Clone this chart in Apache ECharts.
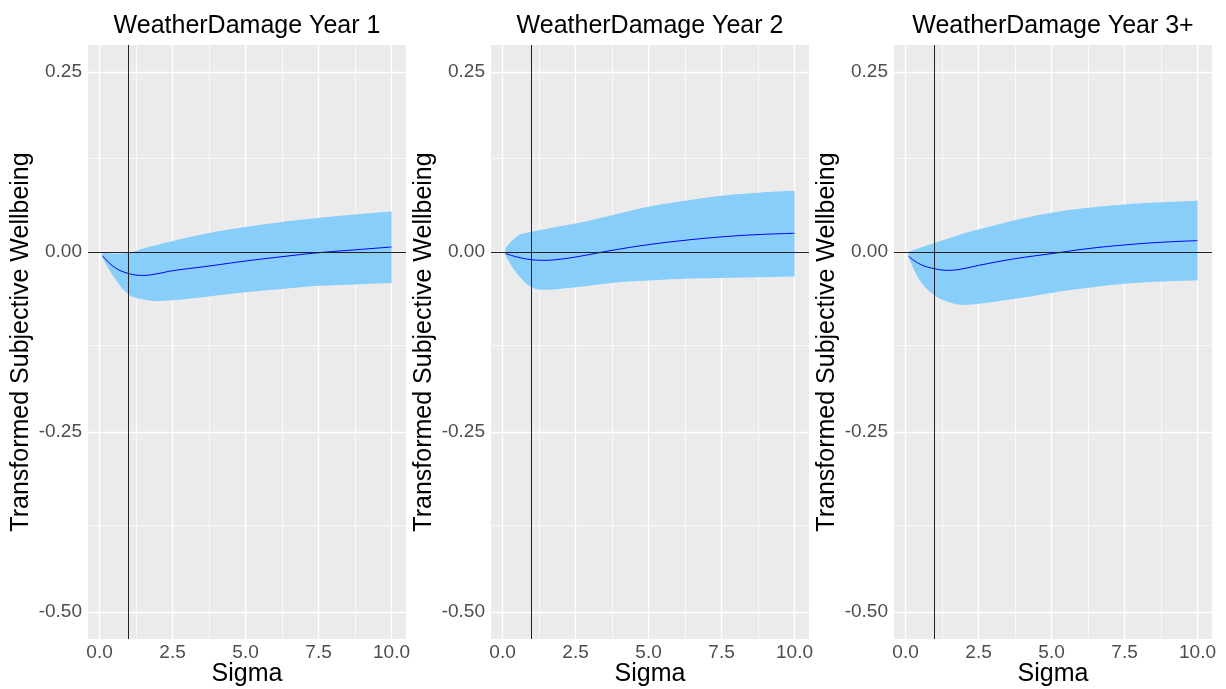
<!DOCTYPE html>
<html>
<head>
<meta charset="utf-8">
<script src="https://cdn.jsdelivr.net/npm/echarts@6/dist/echarts.min.js"></script>
<style>
  html, body { margin: 0; padding: 0; background: #fff; }
  #chart { width: 1226px; height: 689px; }
</style>
</head>
<body>
<div id="chart"></div>
<script>
var titles = ['WeatherDamage Year 1', 'WeatherDamage Year 2', 'WeatherDamage Year 3+'];
var sigma = [0.1, 0.5, 1, 1.5, 2, 2.5, 3.75, 5, 6.25, 7.5, 8.75, 10];

// year 1
var mean1  = [-0.005, -0.021, -0.030, -0.0325, -0.030, -0.026, -0.0195, -0.0125, -0.0065, -0.001, 0.003, 0.007];
var upper1 = [-0.001, -0.002, -0.001, 0.005, 0.010, 0.0153, 0.0265, 0.0348, 0.0418, 0.0473, 0.052, 0.0562];
var lower1 = [-0.008, -0.035, -0.059, -0.066, -0.068, -0.067, -0.0617, -0.056, -0.0515, -0.047, -0.045, -0.043];
// year 2
var mean2  = [-0.002, -0.007, -0.0107, -0.0115, -0.0098, -0.007, 0.0023, 0.0102, 0.0163, 0.021, 0.0242, 0.026];
var upper2 = [0.005, 0.022, 0.028, 0.032, 0.036, 0.0396, 0.0512, 0.0628, 0.0712, 0.0782, 0.0824, 0.085];
var lower2 = [-0.005, -0.030, -0.049, -0.0525, -0.051, -0.049, -0.043, -0.0396, -0.037, -0.036, -0.035, -0.034];
// year 3+
var mean3  = [-0.006, -0.017, -0.0233, -0.0255, -0.023, -0.0186, -0.0093, -0.0023, 0.0047, 0.0098, 0.0135, 0.0158];
var upper3 = [0.0, 0.006, 0.0126, 0.019, 0.026, 0.0312, 0.0442, 0.0545, 0.0615, 0.0661, 0.069, 0.0712];
var lower3 = [-0.006, -0.040, -0.0605, -0.0698, -0.0735, -0.072, -0.065, -0.0568, -0.0498, -0.0442, -0.041, -0.0396];

var xTicks = [0, 2.5, 5, 7.5, 10];
var xMinor = [1.25, 3.75, 6.25, 8.75];
var yTicks = [-0.5, -0.25, 0, 0.25];
var yMinor = [-0.375, -0.125, 0.125];

var means = [mean1, mean2, mean3];
var uppers = [upper1, upper2, upper3];
var lowers = [lower1, lower2, lower3];

var FONT = "'Liberation Sans', Arial, sans-serif";
var lefts = [88, 491, 894];
var PW = 318, PT = 45, PH = 594;

// rows as [y, x] so that stacking happens on the y value
function rows(xs, ys) {
  return xs.map(function (x, k) { return [ys[k], x]; });
}

var grids = [], xAxes = [], yAxes = [], series = [], graphics = [];

for (var i = 0; i < 3; i++) {
  grids.push({
    left: lefts[i], top: PT, width: PW, height: PH,
    outerBoundsMode: 'none', containLabel: false,
    show: true, backgroundColor: '#EBEBEB', borderWidth: 0
  });
  xAxes.push({
    type: 'value', gridIndex: i, min: -0.395, max: 10.495,
    axisLine: { show: false },
    splitLine: { show: false },
    axisTick: { show: true, customValues: xTicks, length: 3, lineStyle: { color: '#333', width: 1 } },
    axisLabel: {
      customValues: xTicks, color: '#4D4D4D', fontSize: 19, fontFamily: FONT, margin: 4,
      formatter: function (v) { return v.toFixed(1); }
    },
    name: 'Sigma', nameLocation: 'middle', nameGap: 23, nameMoveOverlap: false,
    nameTextStyle: { fontSize: 25, color: '#000', fontFamily: FONT }
  });
  yAxes.push({
    type: 'value', gridIndex: i, min: -0.5375, max: 0.2875,
    axisLine: { show: false },
    splitLine: { show: false },
    axisTick: { show: true, customValues: yTicks, length: 3, lineStyle: { color: '#333', width: 1 } },
    axisLabel: {
      customValues: yTicks, color: '#4D4D4D', fontSize: 19, fontFamily: FONT, margin: 6,
      formatter: function (v) { return v.toFixed(2); }
    },
    name: 'Transformed Subjective Wellbeing', nameLocation: 'middle', nameRotate: 90, nameGap: 54,
    nameMoveOverlap: false,
    nameTextStyle: { fontSize: 25, color: '#000', fontFamily: FONT }
  });

  // ggplot style panel grid
  var gl = [];
  xTicks.forEach(function (v) { gl.push({ xAxis: v, lineStyle: { width: 1.4 } }); });
  xMinor.forEach(function (v) { gl.push({ xAxis: v, lineStyle: { width: 0.7 } }); });
  yTicks.forEach(function (v) { gl.push({ yAxis: v, lineStyle: { width: 1.4 } }); });
  yMinor.forEach(function (v) { gl.push({ yAxis: v, lineStyle: { width: 0.7 } }); });
  series.push({
    type: 'line', xAxisIndex: i, yAxisIndex: i, data: [], z: 0, silent: true,
    markLine: {
      z: 1, silent: true, symbol: ['none', 'none'], label: { show: false },
      lineStyle: { color: '#FFFFFF', type: 'solid' }, emphasis: { disabled: true },
      animation: false, data: gl
    }
  });

  // ribbon: lower bound + stacked width
  series.push({
    type: 'line', xAxisIndex: i, yAxisIndex: i, stack: 'ci' + i, stackStrategy: 'all',
    encode: { x: 1, y: 0 },
    data: rows(sigma, lowers[i]), symbol: 'none', smooth: 0.4, z: 2,
    lineStyle: { width: 0, opacity: 0 }, silent: true
  });
  series.push({
    type: 'line', xAxisIndex: i, yAxisIndex: i, stack: 'ci' + i, stackStrategy: 'all',
    encode: { x: 1, y: 0 },
    data: rows(sigma, uppers[i].map(function (u, k) { return u - lowers[i][k]; })),
    symbol: 'none', smooth: 0.4, z: 2,
    lineStyle: { width: 0, opacity: 0 },
    areaStyle: { color: '#87CEFA', opacity: 1 }, silent: true
  });

  // estimate + reference lines
  series.push({
    type: 'line', xAxisIndex: i, yAxisIndex: i,
    encode: { x: 1, y: 0 },
    data: rows(sigma, means[i]), symbol: 'none', smooth: 0.4, z: 3,
    lineStyle: { color: '#0000FF', width: 1 }, silent: true,
    markLine: {
      z: 5, silent: true, symbol: ['none', 'none'], label: { show: false },
      lineStyle: { color: '#222', width: 1, type: 'solid' }, emphasis: { disabled: true },
      animation: false, data: [{ yAxis: 0 }, { xAxis: 1 }]
    }
  });

  graphics.push({
    type: 'text', x: lefts[i] + PW / 2, y: 26,
    style: { text: titles[i], font: '25px ' + FONT, fill: '#000', align: 'center', verticalAlign: 'middle' }
  });
}

var chart = echarts.init(document.getElementById('chart'));
chart.setOption({
  animation: false,
  backgroundColor: '#FFFFFF',
  grid: grids,
  xAxis: xAxes,
  yAxis: yAxes,
  series: series,
  graphic: graphics
});
</script>
</body>
</html>
